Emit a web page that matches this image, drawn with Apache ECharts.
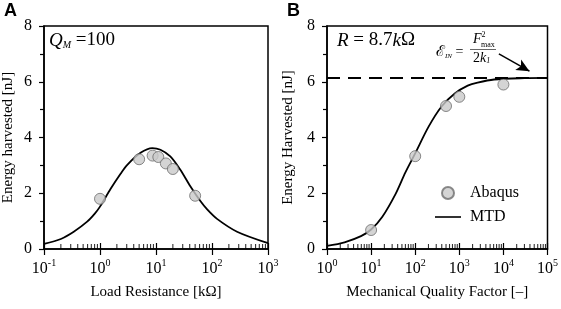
<!DOCTYPE html>
<html>
<head>
<meta charset="utf-8">
<script src="https://cdn.jsdelivr.net/npm/echarts@6/dist/echarts.min.js"></script>
<style>
  html, body { margin: 0; padding: 0; background: #fff; }
  #chart { width: 561px; height: 309px; }
</style>
</head>
<body>
<div id="chart"></div>
<script>
// panel A : energy vs load resistance (kOhm)
var resistanceCurveX = [0.1, 0.2, 0.34, 0.59, 0.8, 1.0, 1.55, 2.33, 3.07, 5.3, 8.6, 12, 18, 27, 41, 62, 82, 123, 280, 1000];
var resistanceCurveY = [0.18, 0.36, 0.62, 0.98, 1.26, 1.52, 2.16, 2.70, 3.02, 3.45, 3.62, 3.56, 3.32, 2.85, 2.25, 1.72, 1.42, 1.08, 0.62, 0.21];
var resistanceAbaqusX = [1, 5, 8.7, 11, 15, 20, 50];
var resistanceAbaqusY = [1.8, 3.22, 3.35, 3.3, 3.07, 2.87, 1.91];

// panel B : energy vs mechanical quality factor
var qualityCurveX = [1, 2.5, 5.9, 10, 18, 36, 60, 100, 200, 400, 790, 1550, 2600, 6150, 30000, 100000];
var qualityCurveY = [0.11, 0.24, 0.46, 0.70, 1.16, 1.98, 2.75, 3.43, 4.38, 5.12, 5.58, 5.86, 5.97, 6.08, 6.13, 6.14];
var qualityAbaqusX = [10, 100, 500, 1000, 10000];
var qualityAbaqusY = [0.68, 3.33, 5.13, 5.46, 5.90];
var inputEnergy = 6.14;

// log minor tick positions (2..9 per decade)
var decadesA = [0.1, 1, 10, 100];
var decadesB = [1, 10, 100, 1000, 10000];
var minorSteps = [2, 3, 4, 5, 6, 7, 8, 9];

var yTicks = [0, 2, 4, 6, 8];
var serif = 'Liberation Serif';

function zip(xs, ys) {
  var out = [];
  for (var i = 0; i < xs.length; i++) out.push([xs[i], ys[i]]);
  return out;
}
function minorTicks(decades) {
  var out = [];
  decades.forEach(function (d) {
    minorSteps.forEach(function (m) { out.push([d * m, yTicks[0]]); });
  });
  return out;
}

// 10^n labels
function powLabel(v) {
  var e = Math.round(Math.log10(v));
  return '{b|10}{s|' + e + '}';
}
var powRich = {
  b: { fontFamily: serif, fontSize: 16, color: '#000' },
  s: { fontFamily: serif, fontSize: 10, color: '#000', padding: [0, 0, 11, 0] }
};

function xAxisMain(idx, min, max, name) {
  return {
    type: 'log', logBase: 10, gridIndex: idx, min: min, max: max, position: 'bottom',
    name: name, nameLocation: 'middle', nameGap: 36,
    nameTextStyle: { fontFamily: serif, fontSize: 15, color: '#000' },
    axisLine: { lineStyle: { color: '#000', width: 1.5 } },
    axisTick: { inside: false, length: 6, lineStyle: { color: '#000', width: 1.2 } },
    minorTick: { show: false },
    axisLabel: { formatter: powLabel, rich: powRich, margin: 9, showMinLabel: true, showMaxLabel: true },
    splitLine: { show: false }
  };
}
function xAxisInner(idx, min, max) {
  return {
    type: 'log', logBase: 10, gridIndex: idx, min: min, max: max, position: 'bottom',
    axisLine: { show: false },
    axisTick: { inside: true, length: 6, lineStyle: { color: '#000', width: 1.2 } },
    minorTick: { show: false },
    axisLabel: { show: false },
    splitLine: { show: false }
  };
}
function yAxisMain(idx, name, gap) {
  return {
    type: 'value', gridIndex: idx, min: yTicks[0], max: yTicks[yTicks.length - 1], interval: 2,
    name: name, nameLocation: 'middle', nameGap: gap,
    nameTextStyle: { fontFamily: serif, fontSize: 15, color: '#000' },
    axisLine: { show: true, lineStyle: { color: '#000', width: 1.5 } },
    axisTick: { show: true, inside: false, length: 5, lineStyle: { color: '#000', width: 1.2 } },
    minorTick: { show: true, splitNumber: 2, length: 4, lineStyle: { color: '#000', width: 1.2 } },
    axisLabel: { fontFamily: serif, fontSize: 16, color: '#000', margin: 12 },
    splitLine: { show: false }
  };
}
function tickSeries(xi, yi, decades) {
  return {
    name: 'minor', type: 'scatter', xAxisIndex: xi, yAxisIndex: yi, data: minorTicks(decades),
    symbol: 'rect', symbolSize: [1.1, 5], symbolOffset: [0, -2.5], clip: false, silent: true,
    itemStyle: { color: '#000' }, z: 4
  };
}

var curveStyle = { color: '#000', width: 1.8 };
var dotStyle = { color: '#c9c9c9', borderColor: '#6e6e6e', borderWidth: 1 };

var chart = echarts.init(document.getElementById('chart'));
chart.setOption({
  animation: false,
  backgroundColor: '#fff',
  grid: [
    { left: 43, right: 293, top: 26, bottom: 60, show: true, borderColor: '#000', borderWidth: 1.5 },
    { left: 327, right: 10, top: 26, bottom: 60, show: true, borderColor: '#000', borderWidth: 1.5 }
  ],
  xAxis: [
    xAxisMain(0, 0.1, 1000, 'Load Resistance [kΩ]'),
    xAxisMain(1, 1, 100000, 'Mechanical Quality Factor [\u2013]'),
    xAxisInner(0, 0.1, 1000),
    xAxisInner(1, 1, 100000)
  ],
  yAxis: [
    yAxisMain(0, 'Energy harvested [nJ]', 28),
    yAxisMain(1, 'Energy Harvested [nJ]', 31)
  ],
  legend: {
    left: 430, top: 180, orient: 'vertical', itemGap: 8, itemWidth: 26, itemHeight: 12,
    textStyle: { fontFamily: serif, fontSize: 16, color: '#000', padding: [0, 0, 0, 4] },
    data: [
      { name: 'Abaqus', icon: 'circle' },
      { name: 'MTD', icon: 'path://M0,0 L26,0 L26,1.6 L0,1.6 Z', itemStyle: { color: '#000' } }
    ]
  },
  series: [
    {
      name: 'MTD', type: 'line', xAxisIndex: 0, yAxisIndex: 0, data: zip(resistanceCurveX, resistanceCurveY),
      smooth: 0.3, showSymbol: false, lineStyle: curveStyle, itemStyle: { color: '#000' }, z: 2
    },
    {
      name: 'Abaqus', type: 'scatter', xAxisIndex: 0, yAxisIndex: 0, data: zip(resistanceAbaqusX, resistanceAbaqusY),
      symbolSize: 11, itemStyle: dotStyle, z: 3
    },
    {
      name: 'MTD', type: 'line', xAxisIndex: 1, yAxisIndex: 1, data: zip(qualityCurveX, qualityCurveY),
      smooth: 0.3, showSymbol: false, lineStyle: curveStyle, itemStyle: { color: '#000' }, z: 2,
      markLine: {
        silent: true, symbol: ['none', 'none'], label: { show: false },
        lineStyle: { color: '#000', width: 2, type: [13, 8] },
        data: [
          { yAxis: inputEnergy },
          [
            { coord: [7900, 7.0], symbol: 'none' },
            { coord: [39000, 6.38], symbol: 'arrow', symbolSize: [9, 13], lineStyle: { type: 'solid', width: 1.5 } }
          ]
        ]
      }
    },
    {
      name: 'Abaqus', type: 'scatter', xAxisIndex: 1, yAxisIndex: 1, data: zip(qualityAbaqusX, qualityAbaqusY),
      symbolSize: 11, itemStyle: dotStyle, z: 3
    },
    tickSeries(0, 0, decadesA),
    tickSeries(1, 1, decadesB)
  ],
  graphic: [
    { type: 'text', left: 4, top: 2, style: { text: 'A', font: 'bold 18px Liberation Sans', fill: '#000' } },
    { type: 'text', left: 287, top: 2, style: { text: 'B', font: 'bold 18px Liberation Sans', fill: '#000' } },
    {
      type: 'text', left: 49, top: 31,
      style: {
        text: '{i|Q}{sub|M}{n| =100}',
        rich: {
          i: { fontFamily: serif, fontStyle: 'italic', fontSize: 19, fill: '#000' },
          sub: { fontFamily: serif, fontStyle: 'italic', fontSize: 10, fill: '#000', padding: [10, 0, 0, 0] },
          n: { fontFamily: serif, fontSize: 19, fill: '#000' }
        }
      }
    },
    {
      type: 'text', left: 337, top: 31,
      style: {
        text: '{i|R}{n| = 8.7}{i|k}{n|Ω}',
        rich: {
          i: { fontFamily: serif, fontStyle: 'italic', fontSize: 19, fill: '#000' },
          n: { fontFamily: serif, fontSize: 19, fill: '#000' }
        }
      }
    },
    {
      type: 'text', left: 436, top: 45,
      style: {
        text: '{i|ℰ}{sub|IN}{n| =}',
        rich: {
          i: { fontFamily: serif, fontSize: 15, fill: '#000' },
          sub: { fontFamily: serif, fontStyle: 'italic', fontSize: 7, fill: '#000', padding: [7, 0, 0, 0] },
          n: { fontFamily: serif, fontSize: 14, fill: '#000' }
        }
      }
    },
    {
      type: 'text', left: 473, top: 31,
      style: {
        text: '{i|F}{sup|2}',
        rich: {
          i: { fontFamily: serif, fontStyle: 'italic', fontSize: 14, fill: '#000' },
          sup: { fontFamily: serif, fontSize: 8, fill: '#000', padding: [0, 0, 8, 0] }
        }
      }
    },
    { type: 'text', left: 481, top: 41, style: { text: 'max', font: '8px Liberation Serif', fill: '#000' } },
    { type: 'rect', left: 470, top: 49, shape: { width: 26, height: 0.6 }, style: { fill: '#000' } },
    {
      type: 'text', left: 473, top: 51,
      style: {
        text: '{n|2}{i|k}{sub|1}',
        rich: {
          n: { fontFamily: serif, fontSize: 14, fill: '#000' },
          i: { fontFamily: serif, fontStyle: 'italic', fontSize: 14, fill: '#000' },
          sub: { fontFamily: serif, fontStyle: 'italic', fontSize: 8, fill: '#000', padding: [6, 0, 0, 0] }
        }
      }
    }
  ]
});
</script>
</body>
</html>
